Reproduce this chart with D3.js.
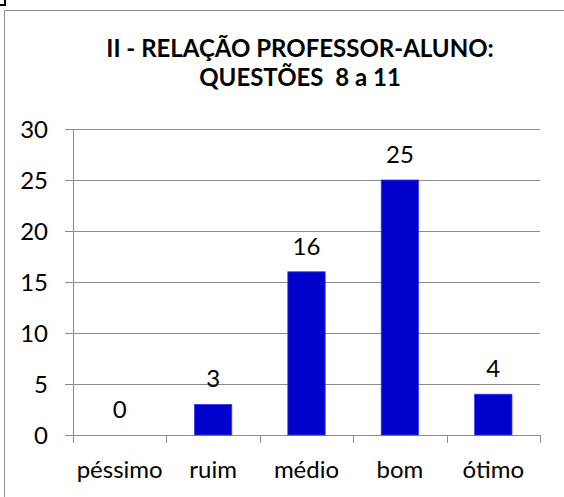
<!DOCTYPE html>
<html>
<head>
<meta charset="utf-8">
<script src="https://cdn.jsdelivr.net/npm/d3@7"></script>
<style>
  html, body { margin: 0; padding: 0; background: #fff; }
  svg { display: block; }
  text { font-family: Lato, "Open Sans", sans-serif; fill: #000; }
</style>
</head>
<body>
<div id="chart"></div>
<script>
// dados do gráfico
const categorias = ["péssimo", "ruim", "médio", "bom", "ótimo"];
const valores = [0, 3, 16, 25, 4];
const yTicks = [0, 5, 10, 15, 20, 25, 30];
const titulo = ["II - RELAÇÃO PROFESSOR-ALUNO:", "QUESTÕES  8 a 11"];

drawChart();

function drawChart() {
  const width = 564;
  const height = 497;

  const svg = d3.select("#chart").append("svg")
    .attr("width", width)
    .attr("height", height);

  // moldura do gráfico (cortada à direita e embaixo)
  svg.append("path")
    .attr("d", "M4.5," + height + " V10.5 H" + width)
    .attr("fill", "none")
    .attr("stroke", "#8c8c8c")
    .attr("stroke-width", 1);

  // marca no canto
  svg.append("path")
    .attr("d", "M0,5 H5 V0")
    .attr("fill", "none")
    .attr("stroke", "#000")
    .attr("stroke-width", 2);

  // título
  svg.append("text")
    .attr("x", 300)
    .attr("y", 57)
    .attr("text-anchor", "middle")
    .style("font-weight", "bold")
    .style("font-size", "24px")
    .selectAll("tspan")
    .data(titulo)
    .join("tspan")
      .attr("x", 300)
      .attr("dy", (d, i) => i === 0 ? 0 : 29)
      .style("white-space", "pre")
      .text(d => d);

  // escalas
  const left = 73, right = 540, top = 129, bottom = 435;
  const x = d3.scaleBand()
    .domain(categorias)
    .range([left, right])
    .paddingInner(0.6)
    .paddingOuter(0.3);
  const xb = d3.scaleBand()
    .domain(categorias)
    .range([left, right]);
  const y = d3.scaleLinear()
    .domain([0, 30])
    .range([bottom, top]);

  // linhas de grade
  svg.append("g")
    .selectAll("line")
    .data(yTicks)
    .join("line")
      .attr("x1", left - 8)
      .attr("x2", right)
      .attr("y1", d => Math.round(y(d)) + 0.5)
      .attr("y2", d => Math.round(y(d)) + 0.5)
      .attr("stroke", "#8c8c8c")
      .attr("stroke-width", 1);

  // eixo y
  svg.append("line")
    .attr("x1", left + 0.5).attr("x2", left + 0.5)
    .attr("y1", top).attr("y2", bottom)
    .attr("stroke", "#8c8c8c");

  svg.append("g")
    .selectAll("text")
    .data(yTicks)
    .join("text")
      .attr("x", 48)
      .attr("y", d => y(d) + 8.5)
      .attr("text-anchor", "end")
      .style("font-size", "24px")
      .text(d => d);

  // marcas do eixo x
  const bordas = categorias.map(c => xb(c)).concat([right]);
  svg.append("g")
    .selectAll("line")
    .data(bordas)
    .join("line")
      .attr("x1", d => Math.round(d) + 0.5)
      .attr("x2", d => Math.round(d) + 0.5)
      .attr("y1", bottom)
      .attr("y2", bottom + 8)
      .attr("stroke", "#8c8c8c");

  // barras
  svg.append("g")
    .selectAll("rect")
    .data(valores)
    .join("rect")
      .attr("x", (d, i) => x(categorias[i]))
      .attr("width", x.bandwidth())
      .attr("y", d => y(d))
      .attr("height", d => y(0) - y(d))
      .attr("fill", "#0000cc")
      .attr("stroke", d => d > 0 ? "#3a3aee" : "none")
      .attr("stroke-width", 0.8);

  // rótulos dos valores
  svg.append("g")
    .selectAll("text")
    .data(valores)
    .join("text")
      .attr("x", (d, i) => xb(categorias[i]) + xb.bandwidth() / 2)
      .attr("y", d => y(d) - 17)
      .attr("text-anchor", "middle")
      .style("font-size", "24px")
      .text(d => d);

  // rótulos das categorias
  svg.append("g")
    .selectAll("text")
    .data(categorias)
    .join("text")
      .attr("x", d => xb(d) + xb.bandwidth() / 2)
      .attr("y", 478)
      .attr("text-anchor", "middle")
      .style("font-size", "24px")
      .text(d => d);
}
</script>
</body>
</html>
